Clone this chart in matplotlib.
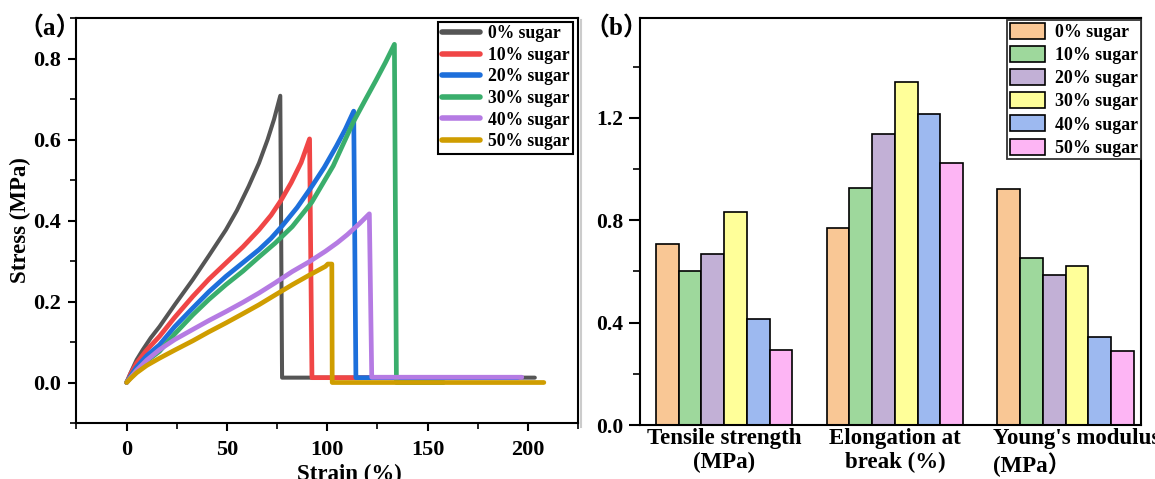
import numpy as np
import matplotlib
matplotlib.use('Agg')
import matplotlib.pyplot as plt
from matplotlib.ticker import MultipleLocator
from matplotlib.patches import Patch
from matplotlib.lines import Line2D
import matplotlib.transforms as mtransforms

plt.rcParams['font.family'] = ['Liberation Serif', 'Noto Sans CJK SC', 'DejaVu Sans']
plt.rcParams['font.weight'] = 'bold'

# ---- data: (a) stress-strain curves ----
series_labels = ['0% sugar', '10% sugar', '20% sugar', '30% sugar', '40% sugar', '50% sugar']

strain_0 = [0, 2, 5, 8.1, 12, 16.4, 24, 33, 41, 49.5, 55, 60.8, 66, 70.3, 73.5, 76.6, 77.5, 203.5]
stress_0 = [0, 0.024, 0.056, 0.081, 0.110, 0.138, 0.192, 0.254, 0.313, 0.377, 0.425, 0.484,
            0.542, 0.600, 0.650, 0.708, 0.012, 0.012]

strain_10 = [0, 2, 5, 10, 16.4, 24, 33, 41, 49.5, 58, 66, 72, 77, 82, 87, 91.2, 92.4, 195]
stress_10 = [0, 0.021, 0.048, 0.080, 0.114, 0.161, 0.2125, 0.255, 0.295, 0.335, 0.377, 0.413,
             0.450, 0.493, 0.543, 0.6015, 0.012, 0.012]

strain_20 = [0, 2, 5, 10, 16.4, 24, 33, 41, 49.5, 58, 66, 72, 77.6, 85, 92.3, 98.5, 104.5,
             109, 113.2, 114.3, 195]
stress_20 = [0, 0.016, 0.038, 0.066, 0.093, 0.138, 0.184, 0.224, 0.262, 0.296, 0.328, 0.356,
             0.387, 0.432, 0.484, 0.531, 0.583, 0.625, 0.670, 0.012, 0.012]

strain_30 = [0, 2, 5, 10, 16.4, 24, 33, 41, 49.5, 58, 66, 74, 82.6, 92.3, 103, 113, 119,
             124.3, 129, 133.5, 134.5, 158]
stress_30 = [0, 0.013, 0.030, 0.053, 0.077, 0.120, 0.167, 0.205, 0.2415, 0.275, 0.310, 0.344,
             0.385, 0.445, 0.535, 0.643, 0.698, 0.746, 0.790, 0.835, 0.0, 0.0]

strain_40 = [0, 2, 5, 10, 16.4, 24, 33, 41, 49.5, 58, 66, 74, 82.6, 91, 99.1, 105, 110, 116,
             121, 122.2, 197]
stress_40 = [0, 0.012, 0.030, 0.055, 0.081, 0.106, 0.131, 0.153, 0.175, 0.198, 0.221, 0.246,
             0.274, 0.298, 0.324, 0.345, 0.365, 0.392, 0.4165, 0.013, 0.013]

strain_50 = [0, 2, 5, 10, 16.4, 24, 33, 41, 49.5, 58, 66, 74, 82.6, 91, 99.1, 100.3, 102.3,
             102.5, 208]
stress_50 = [0, 0.010, 0.024, 0.042, 0.060, 0.080, 0.103, 0.125, 0.147, 0.170, 0.192, 0.216,
             0.2415, 0.265, 0.2867, 0.2925, 0.2925, 0.0, 0.0]

strains = [strain_0, strain_10, strain_20, strain_30, strain_40, strain_50]
stresses = [stress_0, stress_10, stress_20, stress_30, stress_40, stress_50]

# ---- data: (b) grouped bars ----
categories = ["Tensile strength\n(MPa)", "Elongation at\nbreak (%)", "Young's modulus\n(MPa\uff09"]
tensile = [0.707, 0.601, 0.669, 0.834, 0.416, 0.293]
elongation = [0.768, 0.924, 1.138, 1.339, 1.214, 1.022]
youngs = [0.922, 0.652, 0.588, 0.623, 0.345, 0.288]

line_colors = ['#555555', '#F04646', '#1D6FDB', '#3AAE6C', '#B57BE3', '#CF9D00']
bar_colors = ['#F9C795', '#9ED89C', '#C2B0D6', '#FFFF99', '#9DB9F0', '#FDB5F4']

fig = plt.figure(figsize=(11.55, 4.79), dpi=100)

# ---------------- panel (a) ----------------
ax1 = fig.add_axes([0.0662, 0.1169, 0.4342, 0.8455])
for xs, ys, c, lab in zip(strains, stresses, line_colors, series_labels):
    lw = 2.9 if c == '#555555' else 3.4
    ax1.plot(xs, ys, color=c, lw=lw, label=lab, solid_joinstyle='round', solid_capstyle='round')

ax1.set_xlim(-25, 225)
ax1.set_ylim(-0.1, 0.9)
ax1.set_xticks([0, 50, 100, 150, 200])
ax1.xaxis.set_minor_locator(MultipleLocator(25))
ax1.set_yticks([0.0, 0.2, 0.4, 0.6, 0.8])
ax1.yaxis.set_minor_locator(MultipleLocator(0.1))
ax1.set_yticklabels(['0.0', '0.2', '0.4', '0.6', '0.8'])
ax1.tick_params(which='major', direction='out', length=6, width=1.5, labelsize=16, pad=5)
ax1.tick_params(which='minor', direction='out', length=4, width=1.2)
ax1.tick_params(axis='x', which='major', pad=6)
ax1.set_xlabel('Strain (%)', fontsize=16.5, fontweight='bold')
ax1.xaxis.set_label_coords(0.545, -0.10)
ax1.set_ylabel('Stress (MPa)', fontsize=16.5, fontweight='bold')
ax1.yaxis.set_label_coords(-0.091, 0.502)
for sp in ax1.spines.values():
    sp.set_linewidth(1.5)

leg1 = ax1.legend(loc='upper right', bbox_to_anchor=(0.990, 0.991), borderaxespad=0,
                  prop={'size': 12.7, 'weight': 'bold'}, frameon=True, fancybox=False,
                  edgecolor='black', framealpha=1, handlelength=2.15, handletextpad=0.45,
                  labelspacing=0.26, borderpad=0.2)
leg1.get_frame().set_linewidth(1.5)
for h in leg1.get_lines():
    h.set_linewidth(4)

# ---------------- panel (b) ----------------
ax2 = fig.add_axes([0.5541, 0.1127, 0.4338, 0.8497])
x = np.arange(len(categories))
n = len(series_labels)
width = 0.8 / n
groups = np.array([tensile, elongation, youngs])
for i in range(n):
    ax2.bar(x + (i - (n - 1) / 2) * width, groups[:, i], width, color=bar_colors[i],
            edgecolor='black', linewidth=1.2, label=series_labels[i])

ax2.set_xlim(-0.493, 2.441)
ax2.set_ylim(0, 1.59)
ax2.set_yticks([0.0, 0.4, 0.8, 1.2])
ax2.set_yticklabels(['0.0', '0.4', '0.8', '1.2'])
ax2.yaxis.set_minor_locator(MultipleLocator(0.2))
ax2.set_xticks(x)
ax2.set_xticklabels(categories)
ax2.tick_params(axis='y', which='major', direction='out', length=8, width=1.5, labelsize=15.5, pad=4)
ax2.tick_params(axis='y', which='minor', direction='out', length=5, width=1.2)
ax2.tick_params(axis='x', which='both', length=0, labelsize=16.5, pad=2)
for sp in ax2.spines.values():
    sp.set_linewidth(1.5)

xlabels = ax2.get_xticklabels()
xlabels[2].set_multialignment('left')
xlabels[2].set_transform(xlabels[2].get_transform() +
                         mtransforms.ScaledTranslation(0.11, 0, fig.dpi_scale_trans))

handles = [Patch(facecolor=c, edgecolor='black', linewidth=1.2) for c in bar_colors]
leg2 = ax2.legend(handles, series_labels, loc='upper right', bbox_to_anchor=(1.0, 0.995),
                  borderaxespad=0, prop={'size': 12.9, 'weight': 'bold'}, frameon=True,
                  fancybox=False, edgecolor='#333333', framealpha=1, handlelength=2.0,
                  handleheight=1.0, handletextpad=0.55, labelspacing=0.28, borderpad=0.15)
leg2.get_frame().set_linewidth(1.3)

# panel letters
fig.text(50 / 1155, 1 - 28 / 479, '\uff08a\uff09', ha='center', va='center', fontsize=18,
         fontweight='bold')
fig.text(616 / 1155, 1 - 28 / 479, '\uff08b\uff09', ha='center', va='center', fontsize=18,
         fontweight='bold')

# faint separator between the panels
fig.add_artist(Line2D([581 / 1155, 581 / 1155], [1 - 427 / 479, 1 - 20 / 479],
                      transform=fig.transFigure, color='#CCCCCC', lw=1.5))

fig.savefig('out.png', dpi=100)
